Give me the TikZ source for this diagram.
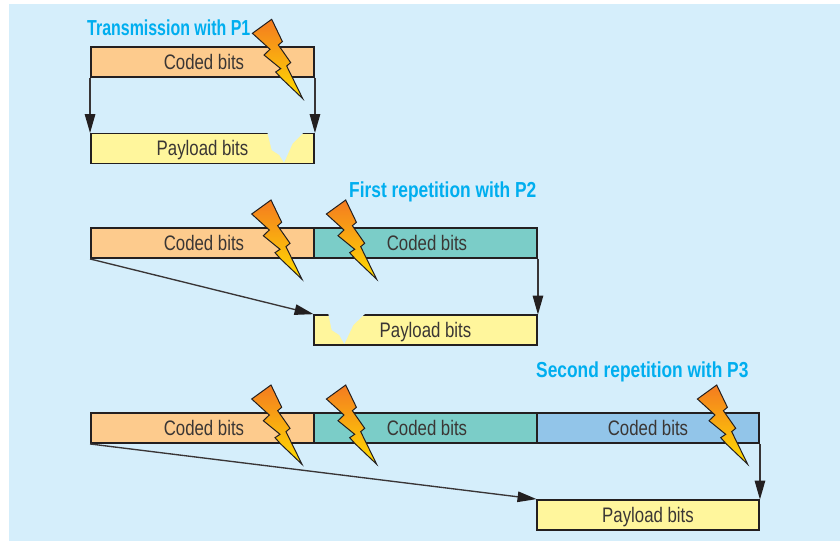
\documentclass[tikz,border=0pt]{standalone}
\usepackage{fontspec}
\setmainfont{Liberation Sans}
\newfontfamily\condfont[FakeStretch=0.80]{Liberation Sans}
\newfontfamily\tightfont[FakeStretch=0.735]{Liberation Sans}
\usetikzlibrary{arrows.meta}
\definecolor{bgblue}{HTML}{D5EEFB}
\definecolor{titleblue}{HTML}{00AEEF}
\definecolor{codedorange}{HTML}{FDCB8D}
\definecolor{codedteal}{HTML}{7BCDC8}
\definecolor{codedblue}{HTML}{92C5E9}
\definecolor{payyellow}{HTML}{FFF69C}
\definecolor{boltorange}{HTML}{F47B20}
\definecolor{boltmid}{HTML}{FBA81C}
\definecolor{boltyellow}{HTML}{FFDD00}
\definecolor{edge}{HTML}{231F20}
\definecolor{textgrey}{HTML}{3A3634}
\tikzset{
  bitbox/.style={draw=edge,line width=1.9pt,rectangle,minimum height=30pt,minimum width=223pt,inner sep=0pt,text height=14.5pt,text depth=0pt,text=textgrey,font=\condfont\fontsize{21}{24}\selectfont},
  coded/.style={bitbox,fill=codedorange},
  teal/.style={bitbox,fill=codedteal},
  skyb/.style={bitbox,fill=codedblue},
  payload/.style={bitbox,fill=payyellow},
  heading/.style={inner sep=0pt,text=titleblue,anchor=west,font=\condfont\bfseries\fontsize{21.7}{24}\selectfont},
  link/.style={draw=edge!90,line width=1.35pt,-{Triangle[length=19pt,width=10.5pt,color=edge]},shorten >=-0.5pt},
  boltshape/.style={draw=edge,line width=1pt,line join=miter,top color=boltorange,middle color=boltmid,bottom color=boltyellow},
  notch/.style={fill=bgblue,draw=none}
}
\newcommand{\bolt}[2]{%
  \path[boltshape,shift={(#1,#2)}] (0,0) -- (10.7,22.3) -- (6.7,25.7) -- (19,43.3) -- (15,46.7) -- (31,79.3) -- (9.7,59) -- (4,52.7) -- (9,49.3) -- (-7.7,35.7) -- (-1.7,30) -- (-19.3,14) -- cycle;}
\begin{document}
\begin{tikzpicture}[x=1pt,y=-1pt]
\useasboundingbox (0,0) rectangle (840,541);
\fill[bgblue] (9,4) rectangle (840,541);
% headings
\node[heading,font=\tightfont\bfseries\fontsize{21.7}{24}\selectfont] (h1) at (87,27.5) {Transmission with P1};
\node[heading] (h2) at (349,191.5) {First repetition with P2};
\node[heading] (h3) at (536,371.5) {Second repetition with P3};
% row 1
\node[coded] (c1) at (202.5,62) {\hspace{3pt}Coded bits};
\node[payload] (p1) at (202.5,148.5) {Payload bits};
\fill[notch] (267.3,132.2) -- (271.7,150) -- (279.3,155) -- (284,162.7) -- (292.7,143.3) -- (304,132.2) -- cycle;
\draw[link] (c1.south west) -- (p1.north west);
\draw[link] (c1.south east) -- (p1.north east);
% row 2
\node[coded] (c2) at (202.5,243) {\hspace{3pt}Coded bits};
\node[teal] (t2) at (425.5,243) {\hspace{3pt}Coded bits};
\node[payload] (p2) at (425.5,330) {Payload bits};
\fill[notch] (328.3,313.8) -- (331.7,330) -- (339.3,335) -- (344.3,344) -- (353.3,325) -- (365,313.8) -- cycle;
\draw[link] (c2.south west) -- (p2.north west);
\draw[link] (t2.south east) -- (p2.north east);
% row 3
\node[coded] (c3) at (202.5,428) {\hspace{3pt}Coded bits};
\node[teal] (t3) at (425.5,428) {\hspace{3pt}Coded bits};
\node[skyb,minimum width=222pt] (b3) at (648,428) {Coded bits};
\node[payload,minimum width=222pt] (p3) at (648,515) {Payload bits};
\draw[link] (c3.south west) -- (p3.north west);
\draw[link] (b3.south east) -- (p3.north east);
% bolts
\bolt{271.7}{19.3}
\bolt{271}{200}
\bolt{345.7}{200}
\bolt{271}{385}
\bolt{345.7}{385}
\bolt{716.7}{385}
\end{tikzpicture}
\end{document}
